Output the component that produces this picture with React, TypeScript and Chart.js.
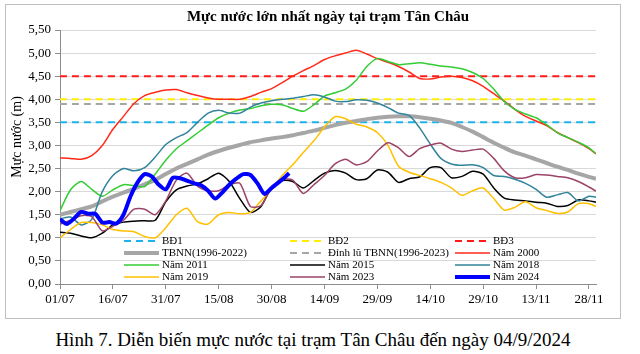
import React, { useEffect, useRef } from 'react';
import { Chart, registerables } from 'chart.js';
Chart.register(...registerables);

const FONT = '"Liberation Serif", "Times New Roman", serif';
const TITLE = 'Mực nước lớn nhất ngày tại trạm Tân Châu';
const Y_TITLE = 'Mực nước (m)';
const CAPTION = 'Hình 7. Diễn biến mực nước tại trạm Tân Châu đến ngày 04/9/2024';

const X_MIN = 0;
const X_MAX = 152;
const TICK_DAYS = [0, 15, 30, 45, 60, 75, 90, 105, 120, 135, 150];
const TICK_LABELS = ['01/07', '16/07', '31/07', '15/08', '30/08', '14/09', '29/09', '14/10', '29/10', '13/11', '28/11'];

const DAYS = [0, 3, 6, 9, 12, 15, 18, 21, 24, 27, 30, 33, 36, 39, 42, 45, 48, 51, 54, 57, 60, 63, 66, 69, 72, 75, 78, 81, 84, 87, 90, 93, 96, 99, 102, 105, 108, 111, 114, 117, 120, 123, 126, 129, 132, 135, 138, 141, 144, 147, 150, 152];
const DAYS_2024 = [0, 2, 4, 6, 8, 10, 12, 14, 16, 18, 20, 22, 24, 26, 28, 30, 32, 34, 36, 38, 40, 42, 44, 46, 48, 50, 52, 54, 56, 58, 60, 62, 64, 65];

const BD1 = 3.5;
const BD2 = 4.0;
const BD3 = 4.5;
const DINH_LU_TBNN = 3.9;

const TBNN = [1.50, 1.56, 1.62, 1.68, 1.79, 1.89, 1.98, 2.06, 2.16, 2.25, 2.38, 2.50, 2.60, 2.70, 2.80, 2.88, 2.95, 3.01, 3.07, 3.11, 3.15, 3.18, 3.22, 3.27, 3.32, 3.38, 3.44, 3.49, 3.53, 3.57, 3.60, 3.62, 3.63, 3.63, 3.61, 3.58, 3.54, 3.49, 3.40, 3.30, 3.18, 3.06, 2.95, 2.85, 2.78, 2.70, 2.62, 2.54, 2.47, 2.39, 2.32, 2.28];
const Y2000 = [2.73, 2.72, 2.70, 2.78, 3.00, 3.35, 3.63, 3.91, 4.08, 4.15, 4.20, 4.21, 4.14, 4.08, 4.03, 4.00, 4.00, 4.00, 4.06, 4.15, 4.23, 4.36, 4.50, 4.62, 4.73, 4.86, 4.94, 5.00, 5.06, 4.98, 4.88, 4.80, 4.71, 4.59, 4.45, 4.44, 4.48, 4.50, 4.47, 4.40, 4.28, 4.12, 3.96, 3.78, 3.63, 3.53, 3.43, 3.28, 3.17, 3.06, 2.93, 2.82];
const Y2011 = [1.59, 2.04, 2.22, 2.05, 1.90, 2.04, 2.15, 2.13, 2.11, 2.38, 2.68, 2.93, 3.10, 3.27, 3.44, 3.60, 3.70, 3.77, 3.80, 3.86, 3.89, 3.88, 3.80, 3.74, 3.88, 4.07, 4.14, 4.22, 4.41, 4.71, 4.88, 4.82, 4.75, 4.77, 4.79, 4.76, 4.72, 4.70, 4.66, 4.58, 4.45, 4.22, 3.95, 3.78, 3.68, 3.60, 3.45, 3.28, 3.17, 3.07, 2.95, 2.82];
const Y2015 = [1.12, 1.10, 1.04, 1.00, 1.10, 1.28, 1.34, 1.36, 1.37, 1.38, 1.78, 2.04, 2.12, 2.17, 2.28, 2.40, 2.22, 1.85, 1.55, 1.68, 2.10, 2.24, 2.22, 2.08, 2.24, 2.40, 2.46, 2.40, 2.26, 2.28, 2.47, 2.42, 2.20, 2.28, 2.32, 2.52, 2.52, 2.30, 2.33, 2.44, 2.38, 2.08, 1.86, 1.82, 1.80, 1.77, 1.75, 1.68, 1.70, 1.82, 1.80, 1.77];
const Y2018 = [1.41, 1.45, 1.28, 1.40, 2.00, 2.35, 2.50, 2.45, 2.52, 2.75, 3.02, 3.17, 3.28, 3.50, 3.70, 3.76, 3.70, 3.70, 3.83, 3.92, 3.97, 4.00, 4.02, 4.06, 4.10, 4.05, 3.96, 3.95, 3.99, 3.98, 3.92, 3.82, 3.70, 3.65, 3.38, 3.03, 2.72, 2.60, 2.57, 2.58, 2.52, 2.35, 2.33, 2.27, 2.18, 2.05, 1.88, 1.93, 1.98, 1.80, 1.90, 1.88];
const Y2019 = [1.00, 1.18, 1.33, 1.33, 1.28, 1.18, 1.15, 1.13, 1.03, 1.00, 1.22, 1.50, 1.64, 1.35, 1.30, 1.50, 1.55, 1.52, 1.55, 1.80, 2.05, 2.35, 2.58, 2.85, 3.10, 3.40, 3.62, 3.58, 3.46, 3.40, 3.28, 3.00, 2.55, 2.42, 2.35, 2.28, 2.20, 2.08, 1.92, 2.02, 2.08, 1.85, 1.60, 1.66, 1.78, 1.65, 1.59, 1.53, 1.56, 1.74, 1.74, 1.68];
const Y2023 = [1.30, 1.38, 1.48, 1.46, 1.15, 1.25, 1.38, 1.62, 1.62, 1.50, 1.80, 2.25, 2.40, 2.12, 2.02, 2.02, 2.15, 2.18, 1.68, 1.70, 2.08, 2.26, 2.25, 1.96, 2.15, 2.35, 2.60, 2.70, 2.58, 2.65, 2.88, 3.06, 2.95, 2.76, 2.93, 3.01, 3.05, 2.92, 2.87, 2.90, 2.92, 2.72, 2.45, 2.30, 2.30, 2.37, 2.36, 2.33, 2.30, 2.22, 2.10, 2.01];
const Y2024 = [1.40, 1.30, 1.42, 1.56, 1.52, 1.52, 1.33, 1.34, 1.31, 1.50, 1.90, 2.20, 2.38, 2.33, 2.15, 2.05, 2.30, 2.29, 2.24, 2.18, 2.14, 2.02, 1.85, 1.98, 2.15, 2.28, 2.38, 2.36, 2.18, 1.95, 2.08, 2.20, 2.33, 2.40];

const LEGEND_COL_X = [124, 290, 455];
const LEGEND_ROW_Y = [241, 253, 265, 277];

function series(days: number[], vals: number[]) {
  return vals.map((v, i) => ({ x: days[i], y: v }));
}
function level(v: number) {
  return [{ x: X_MIN, y: v }, { x: X_MAX, y: v }];
}

export default function App() {
  const ref = useRef<HTMLCanvasElement>(null);
  useEffect(() => {
    document.body.style.margin = '0';
    let chart: any = null;
    let cancelled = false;
    const build = () => {
      if (cancelled || !ref.current) return;
      const canvas = ref.current;
      const base = { pointRadius: 0, fill: false, tension: 0.25 };
      const datasets: any[] = [
        { label: 'BĐ1', data: level(BD1), borderColor: '#1cb2ec', borderWidth: 2, borderDash: [7, 5] },
        { label: 'BĐ2', data: level(BD2), borderColor: '#ffee00', borderWidth: 2, borderDash: [7, 5] },
        { label: 'BĐ3', data: level(BD3), borderColor: '#ff1a1a', borderWidth: 2, borderDash: [7, 5] },
        { label: 'TBNN(1996-2022)', data: series(DAYS, TBNN), borderColor: '#a6a6a6', borderWidth: 4 },
        { label: 'Đỉnh lũ TBNN(1996-2023)', data: level(DINH_LU_TBNN), borderColor: '#a6a6a6', borderWidth: 2, borderDash: [7, 5] },
        { label: 'Năm 2000', data: series(DAYS, Y2000), borderColor: '#ff2a1a', borderWidth: 1.5 },
        { label: 'Năm 2011', data: series(DAYS, Y2011), borderColor: '#33cc33', borderWidth: 1.5 },
        { label: 'Năm 2015', data: series(DAYS, Y2015), borderColor: '#000000', borderWidth: 1.5 },
        { label: 'Năm 2018', data: series(DAYS, Y2018), borderColor: '#31849b', borderWidth: 1.5 },
        { label: 'Năm 2019', data: series(DAYS, Y2019), borderColor: '#ffc000', borderWidth: 1.5 },
        { label: 'Năm 2023', data: series(DAYS, Y2023), borderColor: '#9c4368', borderWidth: 1.5 },
        { label: 'Năm 2024', data: series(DAYS_2024, Y2024), borderColor: '#0000ff', borderWidth: 4 },
      ].map((d, i, arr) => ({ ...base, ...d, order: arr.length - i }));

      const overlay = {
        id: 'overlay',
        afterDraw(c: any) {
          const ctx = c.ctx;
          const area = c.chartArea;
          ctx.save();
          ctx.fillStyle = '#000';
          ctx.font = `bold 15px ${FONT}`;
          ctx.textAlign = 'center';
          ctx.textBaseline = 'middle';
          ctx.fillText(TITLE, (area.left + area.right) / 2, 17);
          ctx.save();
          ctx.translate(17, 137);
          ctx.rotate(-Math.PI / 2);
          ctx.font = `14px ${FONT}`;
          ctx.fillText(Y_TITLE, 0, 0);
          ctx.restore();
          const list = c.data.datasets;
          ctx.font = `11px ${FONT}`;
          ctx.textAlign = 'left';
          list.forEach((ds: any, i: number) => {
            const cx = LEGEND_COL_X[i % 3];
            const cy = LEGEND_ROW_Y[Math.floor(i / 3)];
            ctx.beginPath();
            ctx.strokeStyle = ds.borderColor;
            ctx.lineWidth = ds.borderWidth;
            ctx.setLineDash(ds.borderDash || []);
            ctx.moveTo(cx, cy);
            ctx.lineTo(cx + 35, cy);
            ctx.stroke();
            ctx.setLineDash([]);
            ctx.fillStyle = '#000';
            ctx.fillText(ds.label, cx + 38, cy + 0.5);
          });
          ctx.restore();
        },
      };

      chart = new Chart(canvas, {
        type: 'line',
        data: { datasets },
        plugins: [overlay],
        options: {
          responsive: false,
          animation: false,
          devicePixelRatio: 1,
          layout: { padding: { left: 0, right: 44, top: 30, bottom: 6 } },
          plugins: { legend: { display: false }, tooltip: { enabled: false }, title: { display: false } },
          scales: {
            x: {
              type: 'linear',
              min: X_MIN,
              max: X_MAX,
              afterFit: (s: any) => { s.height = 30; },
              afterBuildTicks: (s: any) => { s.ticks = TICK_DAYS.map((v) => ({ value: v })); },
              ticks: {
                autoSkip: false,
                maxRotation: 0,
                padding: 3,
                color: '#000',
                font: { family: FONT, size: 13 },
                callback: (v: any) => TICK_LABELS[TICK_DAYS.indexOf(Number(v))] ?? '',
              },
              grid: { drawOnChartArea: false, drawTicks: true, tickLength: 5, tickColor: '#8c8c8c' },
              border: { color: '#8c8c8c', width: 1 },
            },
            y: {
              min: 0,
              max: 5.5,
              afterFit: (s: any) => { s.width = 60; },
              ticks: {
                stepSize: 0.5,
                padding: 4,
                color: '#000',
                font: { family: FONT, size: 13 },
                callback: (v: any) => Number(v).toFixed(2).replace('.', ','),
              },
              grid: { color: '#d9d9d9', tickColor: '#8c8c8c', tickLength: 5, lineWidth: 1 },
              border: { color: '#8c8c8c', width: 1 },
            },
          },
        },
      });
    };
    const fonts: any = (document as any).fonts;
    if (fonts && fonts.load) {
      Promise.all([
        fonts.load(`13px ${FONT}`),
        fonts.load(`bold 13px ${FONT}`),
      ]).then(build, build);
    } else {
      build();
    }
    return () => {
      cancelled = true;
      if (chart) chart.destroy();
    };
  }, []);

  return (
    <div style={{ position: 'relative', width: 640, height: 354, background: '#fff', overflow: 'hidden' }}>
      <div style={{ position: 'absolute', left: 5, top: 4, width: 616, height: 315, border: '1px solid #bfbfbf', boxSizing: 'border-box' }} />
      <canvas ref={ref} width={640} height={320} style={{ position: 'absolute', left: 0, top: 0, width: 640, height: 320 }} />
      <div style={{ position: 'absolute', left: 0, top: 329, width: 626, textAlign: 'center', fontFamily: FONT, fontSize: 19, lineHeight: '22px', color: '#000' }}>{CAPTION}</div>
    </div>
  );
}
